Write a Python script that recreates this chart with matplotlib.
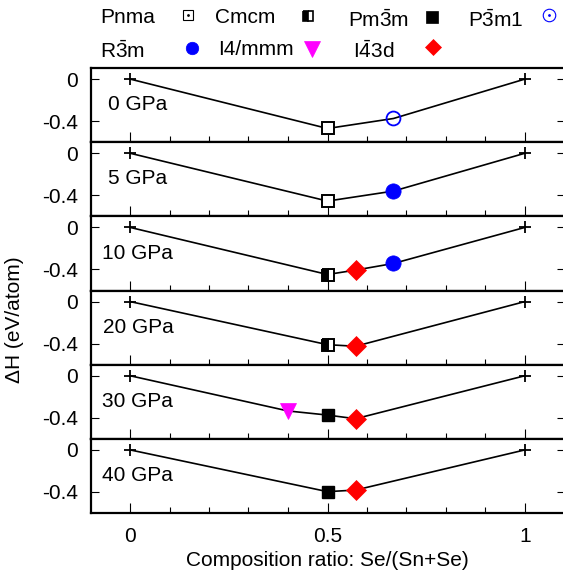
import numpy as np
import matplotlib
matplotlib.use('Agg')
import matplotlib.pyplot as plt
from matplotlib.lines import Line2D

plt.rcParams['font.family'] = 'Liberation Sans'
plt.rcParams['mathtext.fontset'] = 'custom'
plt.rcParams['mathtext.rm'] = 'Liberation Sans'
plt.rcParams['mathtext.it'] = 'Liberation Sans:italic'
plt.rcParams['font.size'] = 15

# ---- data ----
pressures = ['0 GPa', '5 GPa', '10 GPa', '20 GPa', '30 GPa', '40 GPa']

# convex hull points (Se fraction, formation enthalpy eV/atom) per pressure
hull_x = [
    [0, 0.5, 0.667, 1],
    [0, 0.5, 0.667, 1],
    [0, 0.5, 0.571, 0.667, 1],
    [0, 0.5, 0.571, 1],
    [0, 0.4, 0.5, 0.571, 1],
    [0, 0.5, 0.571, 1],
]
hull_y = [
    [0, -0.47, -0.375, 0],
    [0, -0.455, -0.36, 0],
    [0, -0.448, -0.406, -0.343, 0],
    [0, -0.41, -0.425, 0],
    [0, -0.335, -0.374, -0.409, 0],
    [0, -0.397, -0.382, 0],
]
# phase of every hull point, None = pure element
hull_phase = [
    [None, 'Pnma', 'P-3m1', None],
    [None, 'Pnma', 'R-3m', None],
    [None, 'Cmcm', 'I-43d', 'R-3m', None],
    [None, 'Cmcm', 'I-43d', None],
    [None, 'I4/mmm', 'Pm-3m', 'I-43d', None],
    [None, 'Pm-3m', 'I-43d', None],
]

phases = ['Pnma', 'Cmcm', 'Pm-3m', 'P-3m1', 'R-3m', 'I4/mmm', 'I-43d']
phase_labels = ['Pnma', 'Cmcm', r'Pm$\bar{\mathrm{3}}$m', r'P$\bar{\mathrm{3}}$m1',
                r'R$\bar{\mathrm{3}}$m', 'I4/mmm', r'I$\bar{\mathrm{4}}$3d']

# ---- styles ----
styles = {
    'Pnma': dict(marker='s', ms=8.5, mfc='white', mec='black', mew=1.4),
    'Cmcm': dict(marker='s', ms=8.5, fillstyle='left', mfc='black', mfcalt='white', mec='black', mew=1.4),
    'Pm-3m': dict(marker='s', ms=9, mfc='black', mec='black', mew=1),
    'P-3m1': dict(marker='o', ms=10, mfc='none', mec='blue', mew=1.3),
    'R-3m': dict(marker='o', ms=11, mfc='blue', mec='blue', mew=0.5),
    'I4/mmm': dict(marker='v', ms=12, mfc='magenta', mec='magenta', mew=0.5),
    'I-43d': dict(marker='D', ms=10, mfc='red', mec='red', mew=0.5),
}
legend_styles = {
    'Pnma': dict(marker='s', ms=7.5, mfc='white', mec='black', mew=0.8),
    'Cmcm': dict(marker='s', ms=7.5, fillstyle='left', mfc='black', mfcalt='white', mec='black', mew=1.2),
    'Pm-3m': dict(marker='s', ms=8, mfc='black', mec='black', mew=0.5),
    'P-3m1': dict(marker='o', ms=9, mfc='none', mec='blue', mew=0.8),
    'R-3m': dict(marker='o', ms=9, mfc='blue', mec='blue', mew=0.5),
    'I4/mmm': dict(marker='v', ms=12, mfc='magenta', mec='magenta', mew=0.5),
    'I-43d': dict(marker='D', ms=8.5, mfc='red', mec='red', mew=0.5),
}

W, H = 563, 573
fig, axes = plt.subplots(len(pressures), 1, sharex=True, figsize=(W / 100, H / 100), dpi=100)
fig.subplots_adjust(left=90.5 / W, right=564.5 / W, top=1 - 68 / H, bottom=1 - 513 / H, hspace=0)

for i, ax in enumerate(axes):
    hx, hy = hull_x[i], hull_y[i]
    ax.plot(hx, hy, '-', color='black', lw=1.2, zorder=2)
    for x, y, ph in zip(hx, hy, hull_phase[i]):
        if ph is None:
            ax.plot(x, y, '+', color='black', ms=8, mew=1.3, zorder=3)
        else:
            ax.plot(x, y, linestyle='none', zorder=3, **styles[ph])
    ax.text(0.02, -0.245, pressures[i], ha='center', va='center')
    ax.set_xlim(-0.1, 1.1)
    ax.set_ylim(-0.6, 0.105)
    ax.set_yticks([0, -0.4])
    ax.set_yticklabels(['0', '-0.4'])
    ax.set_xticks([0, 0.5, 1])
    ax.set_xticks([0.1, 0.2, 0.3, 0.4, 0.6, 0.7, 0.8, 0.9], minor=True)
    ax.tick_params(axis='y', direction='in', left=True, right=True, length=6, width=0.8, pad=9)
    ax.tick_params(axis='x', which='major', direction='in', top=False, length=7, width=0.8, pad=10)
    ax.tick_params(axis='x', which='minor', direction='in', top=False, length=4, width=0.8)
    for sp in ax.spines.values():
        sp.set_linewidth(1.6)
    if i < len(axes) - 1:
        ax.tick_params(axis='x', labelbottom=False)

axes[-1].set_xticklabels(['0', '0.5', '1'])
axes[-1].set_xlabel('Composition ratio: Se/(Sn+Se)', labelpad=4)
fig.text(15 / W, 1 - 320 / H, 'ΔH (eV/atom)', rotation=90, ha='center', va='center')

# ---- legend (gnuplot style: text then sample) ----
leg_text_xy = [(100, 23), (215, 23), (348, 27), (468, 27), (100, 58), (218, 55), (353, 58)]
leg_mark_xy = [(188, 15), (308, 16), (432, 17), (549, 15), (192, 48), (312, 49), (433, 47)]
for ph, lab, (tx, ty), (mx, my) in zip(phases, phase_labels, leg_text_xy, leg_mark_xy):
    fig.text(tx / W, 1 - ty / H, lab, ha='left', va='baseline')
    fig.add_artist(Line2D([mx / W], [1 - my / H], transform=fig.transFigure,
                          linestyle='none', **legend_styles[ph]))
    if ph in ('Pnma', 'P-3m1'):
        dot_color = 'black' if ph == 'Pnma' else 'blue'
        fig.add_artist(Line2D([mx / W], [1 - my / H], transform=fig.transFigure,
                              linestyle='none', marker='.', ms=2, color=dot_color))

fig.savefig('out.png', dpi=100)
